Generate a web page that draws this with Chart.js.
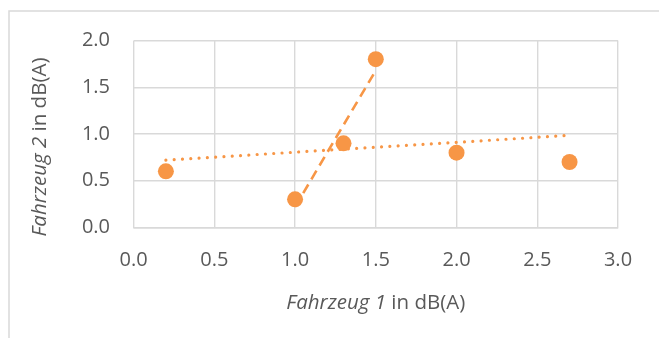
<!DOCTYPE html>
<html>
<head>
<meta charset="utf-8">
<script src="https://cdn.jsdelivr.net/npm/chart.js@4/dist/chart.umd.min.js"></script>
<style>
  html, body { margin: 0; padding: 0; background: #ffffff; }
  #wrap { width: 659px; height: 338px; position: relative; }
</style>
</head>
<body>
<div id="wrap"><canvas id="c" width="659" height="338"></canvas></div>
<script>
// Measured pairs: vehicle 1 vs vehicle 2 (dB(A))
const fahrzeug1 = [0.2, 1.0, 1.3, 1.5, 2.0, 2.7];
const fahrzeug2 = [0.6, 0.3, 0.9, 1.8, 0.8, 0.7];

// Linear trend over all pairs (dotted)
const trendAllX = [0.2, 2.7];
const trendAllY = [0.72, 0.985];

// Linear trend over the middle group (dashed)
const trendSubX = [1.0, 1.5];
const trendSubY = [0.22, 1.68];

// Axis tick labels
const xTickLabels = ['0.0', '0.5', '1.0', '1.5', '2.0', '2.5', '3.0'];
const yTickLabels = ['0.0', '0.5', '1.0', '1.5', '2.0'];

const ORANGE = '#F79646';
const GRID = '#d9d9d9';
const TEXT = '#595959';
const FONT = "'Open Sans', 'Liberation Sans', sans-serif";
const TICK_SIZE = 20;
const TITLE_SIZE = 20.5;

const toPoints = (xs, ys) => xs.map((x, i) => ({ x: x, y: ys[i] }));

// Outer frame plus axis titles with an italic vehicle name
const decor = {
  id: 'decor',
  beforeDraw(chart) {
    const ctx = chart.ctx;
    ctx.save();
    ctx.strokeStyle = GRID;
    ctx.lineWidth = 1.5;
    ctx.beginPath();
    ctx.moveTo(9, 340);
    ctx.lineTo(9, 11);
    ctx.lineTo(662, 11);
    ctx.stroke();
    ctx.restore();
  },
  afterDraw(chart) {
    const ctx = chart.ctx;
    const a = chart.chartArea;
    const drawTitle = (italicPart, plainPart) => {
      ctx.font = 'italic ' + TITLE_SIZE + 'px ' + FONT;
      const w1 = ctx.measureText(italicPart).width;
      ctx.font = TITLE_SIZE + 'px ' + FONT;
      const w2 = ctx.measureText(plainPart).width;
      const x = -(w1 + w2) / 2;
      ctx.font = 'italic ' + TITLE_SIZE + 'px ' + FONT;
      ctx.fillText(italicPart, x, 0);
      ctx.font = TITLE_SIZE + 'px ' + FONT;
      ctx.fillText(plainPart, x + w1, 0);
    };
    ctx.save();
    ctx.fillStyle = TEXT;
    ctx.textBaseline = 'middle';
    ctx.textAlign = 'left';
    ctx.save();
    ctx.translate((a.left + a.right) / 2, 303);
    drawTitle('Fahrzeug 1', ' in dB(A)');
    ctx.restore();
    ctx.save();
    ctx.translate(40, 147);
    ctx.rotate(-Math.PI / 2);
    drawTitle('Fahrzeug 2', ' in dB(A)');
    ctx.restore();
    ctx.restore();
  }
};

new Chart(document.getElementById('c'), {
  type: 'scatter',
  data: {
    datasets: [
      {
        label: 'Fahrzeug',
        data: toPoints(fahrzeug1, fahrzeug2),
        backgroundColor: ORANGE,
        borderColor: ORANGE,
        pointRadius: 8,
        pointHoverRadius: 8,
        borderWidth: 0,
        order: 0
      },
      {
        label: 'Trend gesamt',
        data: toPoints(trendAllX, trendAllY),
        showLine: true,
        borderColor: ORANGE,
        borderWidth: 3.2,
        borderCapStyle: 'round',
        borderDash: [0.01, 8.3],
        pointRadius: 0,
        fill: false,
        order: 2
      },
      {
        label: 'Trend Gruppe',
        data: toPoints(trendSubX, trendSubY),
        showLine: true,
        borderColor: ORANGE,
        borderWidth: 2.6,
        borderDash: [10, 6],
        pointRadius: 0,
        fill: false,
        order: 1
      }
    ]
  },
  options: {
    responsive: false,
    animation: false,
    events: [],
    layout: { padding: { left: 0, right: 41, top: 40.5, bottom: 0 } },
    plugins: {
      legend: { display: false },
      tooltip: { enabled: false },
      title: { display: false }
    },
    scales: {
      x: {
        type: 'linear',
        min: 0,
        max: 3,
        afterBuildTicks(scale) {
          scale.ticks = xTickLabels.map(t => ({ value: parseFloat(t) }));
        },
        afterFit(scale) { scale.height = 110.6; },
        grid: { color: GRID, lineWidth: 1.4, drawTicks: false },
        border: { display: true, color: GRID, width: 1.4 },
        ticks: {
          padding: 21,
          color: TEXT,
          font: { family: FONT, size: TICK_SIZE },
          maxRotation: 0,
          callback: (v, i) => xTickLabels[i]
        }
      },
      y: {
        type: 'linear',
        min: 0,
        max: 2,
        afterBuildTicks(scale) {
          scale.ticks = yTickLabels.map(t => ({ value: parseFloat(t) }));
        },
        afterFit(scale) { scale.width = 133.6; },
        grid: { color: GRID, lineWidth: 1.4, drawTicks: false },
        border: { display: false },
        ticks: {
          padding: 23.6,
          color: TEXT,
          font: { family: FONT, size: TICK_SIZE },
          callback: (v, i) => yTickLabels[i]
        }
      }
    }
  },
  plugins: [decor]
});
</script>
</body>
</html>
